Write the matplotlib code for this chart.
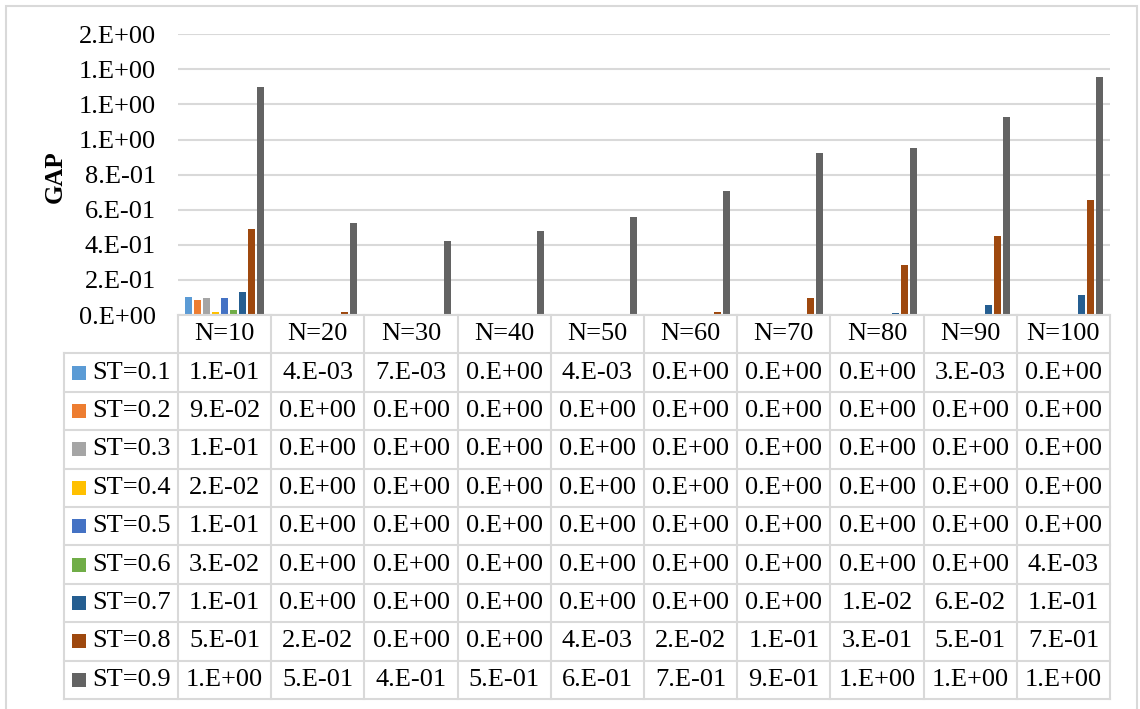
import numpy as np
import matplotlib
matplotlib.use("Agg")
import matplotlib.pyplot as plt
from matplotlib.patches import Rectangle
from matplotlib.ticker import FuncFormatter, MultipleLocator

plt.rcParams['font.family'] = ['Liberation Serif', 'DejaVu Serif']

## data
categories = ['N=10', 'N=20', 'N=30', 'N=40', 'N=50', 'N=60', 'N=70', 'N=80', 'N=90', 'N=100']
series_labels = ['ST=0.1', 'ST=0.2', 'ST=0.3', 'ST=0.4', 'ST=0.5', 'ST=0.6', 'ST=0.7', 'ST=0.8', 'ST=0.9']
st01 = [0.101, 0.004, 0.007, 0, 0.004, 0, 0, 0, 0.003, 0]
st02 = [0.086, 0, 0, 0, 0, 0, 0, 0, 0, 0]
st03 = [0.096, 0, 0, 0, 0, 0, 0, 0, 0, 0]
st04 = [0.016, 0, 0, 0, 0, 0, 0, 0, 0, 0]
st05 = [0.098, 0, 0, 0, 0, 0, 0, 0, 0, 0]
st06 = [0.026, 0, 0, 0, 0, 0, 0, 0, 0, 0.004]
st07 = [0.131, 0, 0, 0, 0, 0, 0, 0.010, 0.056, 0.114]
st08 = [0.488, 0.017, 0, 0, 0.004, 0.019, 0.098, 0.285, 0.452, 0.653]
st09 = [1.30, 0.522, 0.42, 0.479, 0.557, 0.707, 0.923, 0.953, 1.13, 1.358]
series = [st01, st02, st03, st04, st05, st06, st07, st08, st09]
colors = ['#5B9BD5', '#ED7D31', '#A5A5A5', '#FFC000', '#4472C4',
          '#70AD47', '#255E91', '#9E480E', '#636363']

grid_c = '#D9D9D9'
W, H = 1140, 709
FS = 19

def sci0(v):
    # excel style "0.E+00"
    s = f"{v:.0E}"
    return s[0] + '.' + s[1:]

fig = plt.figure(figsize=(W / 100, H / 100), dpi=100)

# outer chart border
fig.patches.append(Rectangle((6 / W, -0.02), (1137 - 6) / W, 1.02 - 6 / H,
                             transform=fig.transFigure, fill=False,
                             ec=grid_c, lw=1.5))

## bar plot area
ax = fig.add_axes([178 / W, (H - 315) / H, (1110 - 178) / W, (315 - 34.3) / H])
x = np.arange(len(categories))
slot, bw = 0.0966, 0.075
for k, vals in enumerate(series):
    ax.bar(x + (k - 4) * slot, vals, width=bw, color=colors[k], zorder=3)
ax.set_xlim(-0.5, len(categories) - 0.5)
ax.set_ylim(0, 1.6)
ax.yaxis.set_major_locator(MultipleLocator(0.2))
ax.yaxis.set_major_formatter(FuncFormatter(lambda v, p: sci0(v)))
ax.set_xticks([])
ax.tick_params(axis='y', length=0, pad=16, labelsize=FS)
ax.grid(axis='y', color=grid_c, lw=1.5)
ax.set_axisbelow(True)
for sp in ax.spines.values():
    sp.set_visible(False)

fig.text(55 / W, 1 - 177 / H, 'GAP', rotation=90, ha='center', va='center',
         fontsize=18, fontweight='bold')

## data table below
lab_w = (178 - 64) / 93.2
tb = fig.add_axes([64 / W, (H - 699) / H, (1110 - 64) / W, (699 - 315) / H])
tb.set_xlim(-0.5 - lab_w, len(categories) - 0.5)
tb.set_ylim(len(series) + 1, 0)
tb.axis('off')
left = -0.5 - lab_w
right = len(categories) - 0.5
nrows = len(series) + 1

lkw = dict(color=grid_c, lw=1.5, clip_on=False)
tb.plot([-0.5, right], [0, 0], **lkw)
for r in range(1, nrows + 1):
    tb.plot([left, right], [r, r], **lkw)
for c in range(len(categories) + 1):
    tb.plot([-0.5 + c, -0.5 + c], [0, nrows], **lkw)
tb.plot([left, left], [1, nrows], **lkw)

for c, name in enumerate(categories):
    tb.text(c, 0.5, name, ha='center', va='center', fontsize=FS)

for k, vals in enumerate(series):
    r = k + 1.5
    tb.plot(left + 0.166, r, marker='s', ms=9.5, color=colors[k], mew=0, clip_on=False)
    tb.text(left + 0.30, r, series_labels[k], ha='left', va='center', fontsize=FS)
    for c, v in enumerate(vals):
        tb.text(c, r, sci0(v), ha='center', va='center', fontsize=FS)

fig.savefig('out.png', dpi=100)
